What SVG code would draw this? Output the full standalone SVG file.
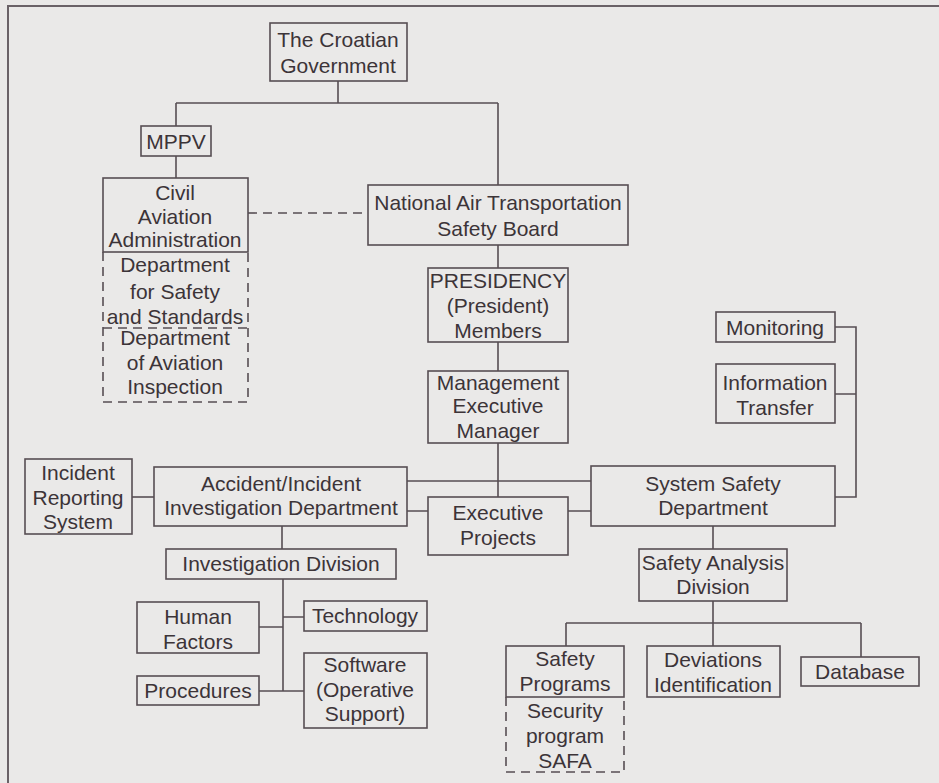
<svg xmlns="http://www.w3.org/2000/svg" width="939" height="783" viewBox="0 0 939 783">
<style>
.bg{fill:#eae9e8}
.box{fill:none;stroke:#574e53;stroke-width:1.6}
.dash{fill:none;stroke:#574e53;stroke-width:1.6;stroke-dasharray:9 6}
.ln{fill:none;stroke:#574e53;stroke-width:1.6}
.frame{fill:none;stroke:#6a6267;stroke-width:2}
text{font-family:"Liberation Sans",Arial,sans-serif;font-size:21px;fill:#3c3438;text-anchor:middle}
</style>
<rect class="bg" x="0" y="0" width="939" height="783"/>
<path class="frame" d="M8 783 V6 H939"/>
<g id="connectors">
<path class="ln" d="M338 81 V103 M176 103 H498 M176 103 V126 M498 103 V185"/>
<path class="ln" d="M176 156 V178"/>
<path class="dash" d="M248 213 H368"/>
<path class="ln" d="M498 245 V268 M498 342 V371 M498 443 V497"/>
<path class="ln" d="M407 481 H591 M407 511 H428 M568 511 H591"/>
<path class="ln" d="M132 497 H154"/>
<path class="ln" d="M282 526 V549 M283 579 V691 M259 627 H283 M283 617 H304 M259 691 H304"/>
<path class="ln" d="M713 526 V549 M713 601 V646 M566 623 H861 M566 623 V646 M861 623 V657"/>
<path class="ln" d="M835 327 H856 V497 H835 M835 394 H856"/>
</g>
<g id="gov"><rect class="box" x="270" y="23" width="137" height="58"/><text x="338" y="47">The Croatian</text><text x="338" y="73">Government</text></g>
<g id="mppv"><rect class="box" x="141" y="126" width="70" height="30"/><text x="176" y="149">MPPV</text></g>
<g id="caa"><rect class="box" x="103" y="178" width="145" height="74"/><text x="175" y="200">Civil</text><text x="175" y="224">Aviation</text><text x="175" y="247">Administration</text></g>
<g id="dept-safety"><path class="dash" d="M103 252 V402 H248 V252 M103 328 H248"/><text x="175" y="272">Department</text><text x="175" y="299">for Safety</text><text x="175" y="324">and Standards</text><text x="175" y="345">Department</text><text x="175" y="370">of Aviation</text><text x="175" y="394">Inspection</text></g>
<g id="natsb"><rect class="box" x="368" y="185" width="260" height="60"/><text x="498" y="210">National Air Transportation</text><text x="498" y="236">Safety Board</text></g>
<g id="presidency"><rect class="box" x="428" y="268" width="140" height="74"/><text x="498" y="288">PRESIDENCY</text><text x="498" y="313">(President)</text><text x="498" y="338">Members</text></g>
<g id="management"><rect class="box" x="428" y="371" width="140" height="72"/><text x="498" y="390">Management</text><text x="498" y="413">Executive</text><text x="498" y="438">Manager</text></g>
<g id="exec-projects"><rect class="box" x="428" y="497" width="140" height="58"/><text x="498" y="520">Executive</text><text x="498" y="545">Projects</text></g>
<g id="sys-safety"><rect class="box" x="591" y="466" width="244" height="60"/><text x="713" y="491">System Safety</text><text x="713" y="515">Department</text></g>
<g id="monitoring"><rect class="box" x="716" y="312" width="119" height="30"/><text x="775" y="335">Monitoring</text></g>
<g id="info-transfer"><rect class="box" x="716" y="364" width="119" height="59"/><text x="775" y="390">Information</text><text x="775" y="415">Transfer</text></g>
<g id="safety-analysis"><rect class="box" x="639" y="549" width="148" height="52"/><text x="713" y="570">Safety Analysis</text><text x="713" y="594">Division</text></g>
<g id="safety-programs"><rect class="box" x="506" y="646" width="118" height="51"/><text x="565" y="666">Safety</text><text x="565" y="691">Programs</text></g>
<g id="security-safa"><path class="dash" d="M506 697 V772 H624 V697"/><text x="565" y="718">Security</text><text x="565" y="743">program</text><text x="565" y="768">SAFA</text></g>
<g id="deviations"><rect class="box" x="647" y="646" width="133" height="51"/><text x="713" y="667">Deviations</text><text x="713" y="692">Identification</text></g>
<g id="database"><rect class="box" x="801" y="657" width="118" height="29"/><text x="860" y="679">Database</text></g>
<g id="incident-reporting"><rect class="box" x="25" y="459" width="107" height="75"/><text x="78" y="480">Incident</text><text x="78" y="505">Reporting</text><text x="78" y="529">System</text></g>
<g id="accident-dept"><rect class="box" x="154" y="467" width="253" height="59"/><text x="281" y="491">Accident/Incident</text><text x="281" y="515">Investigation Department</text></g>
<g id="inv-division"><rect class="box" x="166" y="549" width="230" height="30"/><text x="281" y="571">Investigation Division</text></g>
<g id="human-factors"><rect class="box" x="137" y="602" width="122" height="51"/><text x="198" y="624">Human</text><text x="198" y="649">Factors</text></g>
<g id="technology"><rect class="box" x="304" y="601" width="123" height="30"/><text x="365" y="623">Technology</text></g>
<g id="procedures"><rect class="box" x="137" y="676" width="122" height="29"/><text x="198" y="698">Procedures</text></g>
<g id="software"><rect class="box" x="304" y="653" width="123" height="75"/><text x="365" y="672">Software</text><text x="365" y="697">(Operative</text><text x="365" y="721">Support)</text></g>
</svg>
